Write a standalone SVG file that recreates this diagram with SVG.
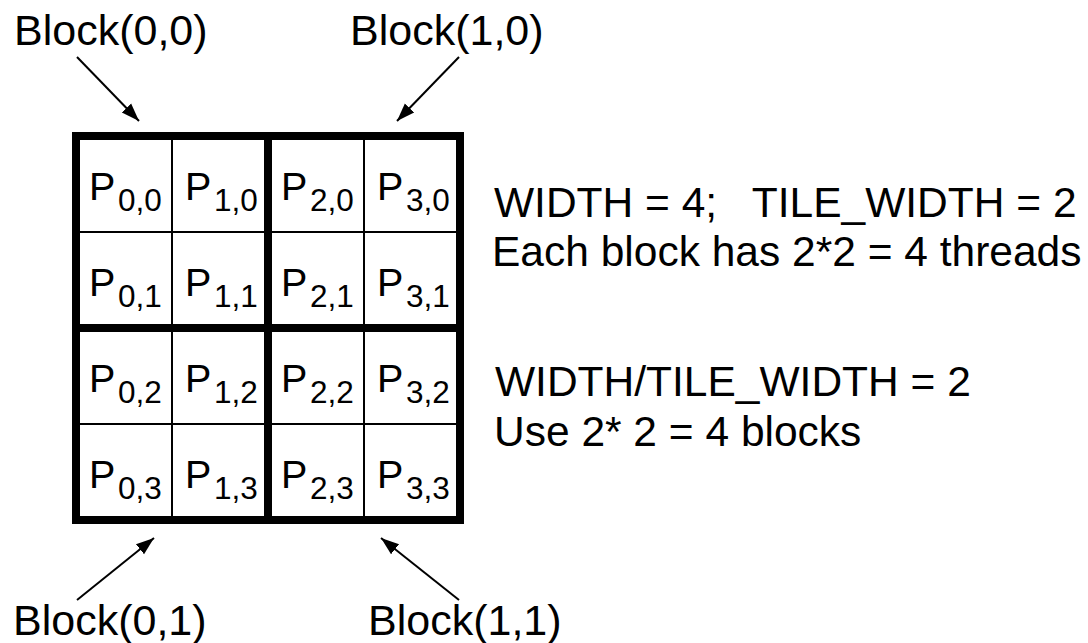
<svg xmlns="http://www.w3.org/2000/svg" width="1088" height="643" viewBox="0 0 1088 643">
<style>
.t{font-family:"Liberation Sans",Arial,sans-serif;fill:#000}
.lbl{font-size:43px}
.note{font-size:42.5px}
.p{font-size:39.5px}
.s{font-size:31.5px}
.thin{stroke:#000;stroke-width:2;fill:none}
.thick{stroke:#000;stroke-width:8;fill:none}
.arr{stroke:#000;stroke-width:2;fill:none;marker-end:url(#ah)}
</style>
<defs>
<marker id="ah" viewBox="0 0 10 10" refX="10" refY="5" markerWidth="9" markerHeight="9" markerUnits="strokeWidth" orient="auto">
<path d="M0,1.4 L10,5 L0,8.6 z" fill="#000"/>
</marker>
</defs>
<rect x="0" y="0" width="1088" height="643" fill="#fff"/>
<g id="grid">
<line class="thin" x1="172" y1="136" x2="172" y2="520"/>
<line class="thin" x1="364" y1="136" x2="364" y2="520"/>
<line class="thin" x1="76" y1="232" x2="460" y2="232"/>
<line class="thin" x1="76" y1="424" x2="460" y2="424"/>
<line class="thick" x1="268" y1="136" x2="268" y2="520"/>
<line class="thick" x1="76" y1="328" x2="460" y2="328"/>
<rect class="thick" x="76" y="136" width="384" height="384"/>
</g>
<g id="cells" class="t">
<g id="p00"><text class="p" x="89" y="200">P</text><text class="s" x="118" y="211">0,0</text></g>
<g id="p10"><text class="p" x="185" y="200">P</text><text class="s" x="214" y="211">1,0</text></g>
<g id="p20"><text class="p" x="281" y="200">P</text><text class="s" x="310" y="211">2,0</text></g>
<g id="p30"><text class="p" x="377" y="200">P</text><text class="s" x="406" y="211">3,0</text></g>
<g id="p01"><text class="p" x="89" y="296">P</text><text class="s" x="118" y="307">0,1</text></g>
<g id="p11"><text class="p" x="185" y="296">P</text><text class="s" x="214" y="307">1,1</text></g>
<g id="p21"><text class="p" x="281" y="296">P</text><text class="s" x="310" y="307">2,1</text></g>
<g id="p31"><text class="p" x="377" y="296">P</text><text class="s" x="406" y="307">3,1</text></g>
<g id="p02"><text class="p" x="89" y="392">P</text><text class="s" x="118" y="403">0,2</text></g>
<g id="p12"><text class="p" x="185" y="392">P</text><text class="s" x="214" y="403">1,2</text></g>
<g id="p22"><text class="p" x="281" y="392">P</text><text class="s" x="310" y="403">2,2</text></g>
<g id="p32"><text class="p" x="377" y="392">P</text><text class="s" x="406" y="403">3,2</text></g>
<g id="p03"><text class="p" x="89" y="488">P</text><text class="s" x="118" y="499">0,3</text></g>
<g id="p13"><text class="p" x="185" y="488">P</text><text class="s" x="214" y="499">1,3</text></g>
<g id="p23"><text class="p" x="281" y="488">P</text><text class="s" x="310" y="499">2,3</text></g>
<g id="p33"><text class="p" x="377" y="488">P</text><text class="s" x="406" y="499">3,3</text></g>
</g>
<g id="labels" class="t lbl">
<text id="b00" x="14" y="45">Block(0,0)</text>
<text id="b10" x="350" y="45">Block(1,0)</text>
<text id="b01" x="13" y="635">Block(0,1)</text>
<text id="b11" x="368" y="635">Block(1,1)</text>
</g>
<g id="notes" class="t note">
<text x="494" y="217" xml:space="preserve" style="white-space:pre">WIDTH = 4;   TILE_WIDTH = 2</text>
<text x="492" y="266">Each block has 2*2 = 4 threads</text>
<text x="495" y="396">WIDTH/TILE_WIDTH = 2</text>
<text x="494" y="446">Use 2* 2 = 4 blocks</text>
</g>
<g id="connectors">
<line class="arr" x1="77" y1="57" x2="139" y2="121"/>
<line class="arr" x1="459" y1="57" x2="397" y2="121"/>
<line class="arr" x1="77" y1="600" x2="154" y2="538"/>
<line class="arr" x1="459" y1="600" x2="381" y2="538"/>
</g>
</svg>
